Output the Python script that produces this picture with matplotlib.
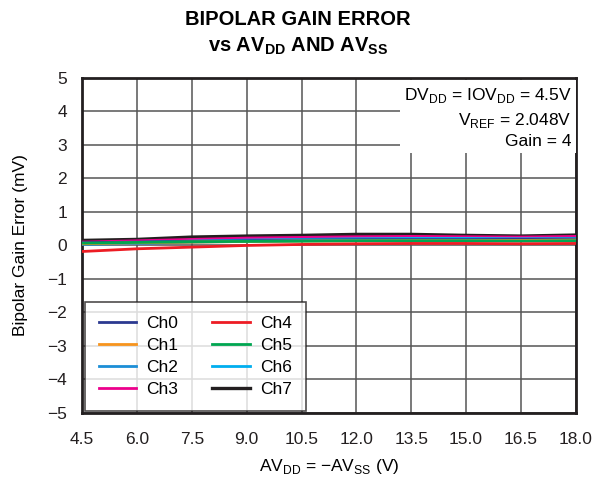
import matplotlib
matplotlib.use("Agg")
import matplotlib.pyplot as plt
import numpy as np

plt.rcParams['font.family'] = ['Liberation Sans', 'DejaVu Sans']
plt.rcParams['mathtext.fontset'] = 'custom'
plt.rcParams['mathtext.rm'] = 'Liberation Sans'
plt.rcParams['mathtext.bf'] = 'Liberation Sans:bold'

supply_v = [4.5, 6.0, 7.5, 9.0, 10.5, 12.0, 13.5, 15.0, 16.5, 18.0]
ch0 = [0.08, 0.10, 0.12, 0.14, 0.16, 0.17, 0.18, 0.18, 0.18, 0.19]
ch1 = [0.05, 0.08, 0.10, 0.12, 0.13, 0.14, 0.15, 0.15, 0.15, 0.16]
ch2 = [0.03, 0.06, 0.10, 0.12, 0.14, 0.15, 0.16, 0.16, 0.15, 0.16]
ch3 = [0.10, 0.14, 0.18, 0.22, 0.24, 0.26, 0.27, 0.26, 0.25, 0.27]
ch4 = [-0.18, -0.10, -0.05, 0.00, 0.03, 0.05, 0.06, 0.06, 0.05, 0.06]
ch5 = [0.07, 0.09, 0.11, 0.12, 0.13, 0.14, 0.14, 0.14, 0.13, 0.14]
ch6 = [0.05, 0.09, 0.13, 0.16, 0.18, 0.20, 0.21, 0.21, 0.20, 0.21]
ch7 = [0.15, 0.18, 0.25, 0.28, 0.30, 0.33, 0.33, 0.30, 0.28, 0.31]

series = [("Ch0", ch0, "#2b3990"), ("Ch1", ch1, "#f7941d"), ("Ch2", ch2, "#1c8ed6"),
          ("Ch3", ch3, "#ec008c"), ("Ch4", ch4, "#ed1c24"), ("Ch5", ch5, "#00a651"),
          ("Ch6", ch6, "#00aeef"), ("Ch7", ch7, "#231f20")]

xticks = [4.5, 6.0, 7.5, 9.0, 10.5, 12.0, 13.5, 15.0, 16.5, 18.0]
yticks = [-5, -4, -3, -2, -1, 0, 1, 2, 3, 4, 5]

fig = plt.figure(figsize=(5.96, 4.78), dpi=100)
ax = fig.add_axes([0.138, 0.136, 0.828, 0.701])

draw_order = [7, 3, 6, 0, 2, 1, 5, 4]
handles = {}
for i in draw_order:
    name, vals, col = series[i]
    h, = ax.plot(supply_v, vals, color=col, lw=2.4 if i == 7 else 2.0, label=name, zorder=3)
    handles[i] = h

ax.set_xlim(4.5, 18.0)
ax.set_ylim(-5, 5)
ax.set_xticks(xticks)
ax.set_xticklabels([f"{v:.1f}" for v in xticks])
ax.set_yticks(yticks)
ax.set_yticklabels([str(v).replace('-', '\u2212') for v in yticks])
ax.grid(True, color='#555555', lw=1.1)
ax.set_axisbelow(True)
ax.tick_params(axis='x', direction='in', length=0, labelsize=12.5, pad=14, colors='#231f20')
ax.tick_params(axis='y', direction='in', length=0, labelsize=12.5, pad=11, colors='#231f20')
for s in ax.spines.values():
    s.set_linewidth(2)
    s.set_color('#231f20')

ax.set_xlabel("AV$_{\\mathrm{DD}}$ = \u2212AV$_{\\mathrm{SS}}$ (V)", fontsize=12.5, labelpad=7)
ax.set_ylabel("Bipolar Gain Error (mV)", fontsize=12.5, labelpad=14)

fig.text(0.5, 0.96, "BIPOLAR GAIN ERROR", ha='center', va='center', fontsize=14.5, fontweight='bold')
fig.text(0.5, 0.903, r"vs AV$_{\mathbf{DD}}$ AND AV$_{\mathbf{SS}}$", ha='center', va='center',
         fontsize=14.5, fontweight='bold')

ax.text(0.992, 0.975, "DV$_{\\mathrm{DD}}$ = IOV$_{\\mathrm{DD}}$ = 4.5V\nV$_{\\mathrm{REF}}$ = 2.048V\nGain = 4",
        transform=ax.transAxes, ha='right', va='top', fontsize=12.5, linespacing=1.38,
        bbox=dict(facecolor='white', edgecolor='none', pad=3), zorder=4)

order = [0, 1, 2, 3, 4, 5, 6, 7]
leg = ax.legend([handles[i] for i in order], [series[i][0] for i in order], ncol=2,
                loc='lower left', bbox_to_anchor=(0.002, 0.0), fontsize=12.5, frameon=True,
                fancybox=False, edgecolor='#231f20', handlelength=2.15, columnspacing=1.95,
                labelspacing=0.4, borderpad=0.8, handletextpad=0.6, borderaxespad=0.1)
leg.get_frame().set_linewidth(1.2)
leg.set_zorder(5)

fig.savefig("out.png", dpi=100)
